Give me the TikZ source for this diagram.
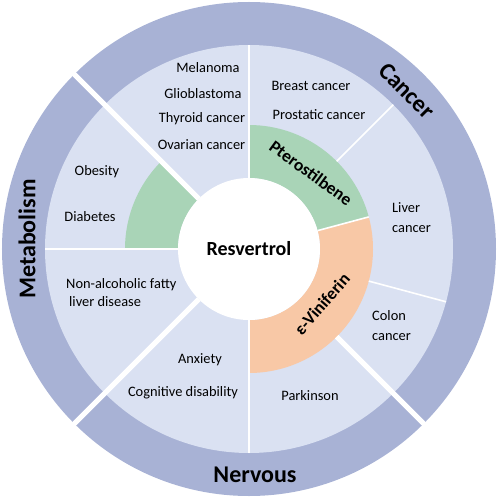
\documentclass[tikz,border=0pt]{standalone}
\usepackage{fontspec}
\setmainfont{Carlito}
\definecolor{outerc}{HTML}{A8B2D5}
\definecolor{lightc}{HTML}{DAE1F2}
\definecolor{greenc}{HTML}{A9D4B7}
\definecolor{orangec}{HTML}{F8C8A6}
\tikzset{
  gapline/.style={white, line width=5pt},
  thinline/.style={white, line width=1.6pt},
  item/.style={font=\fontsize{14.4}{18}\selectfont, inner sep=0pt, text=black},
  itemtwo/.style={font=\fontsize{14.4}{20}\selectfont, inner sep=0pt, align=left, text=black},
  biglabel/.style={font=\fontsize{24}{28}\selectfont\bfseries, inner sep=0pt},
  midlabel/.style={font=\fontsize{17.5}{20}\selectfont\bfseries, inner sep=0pt},
}
\begin{document}
\begin{tikzpicture}[x=1pt,y=1pt]
\useasboundingbox (-249,-249) rectangle (249,249);
\def\ra{71pt}\def\rb{124pt}\def\rc{204pt}\def\rd{247pt}
% rings
\fill[outerc] (0,0) circle (\rd);
\fill[lightc] (0,0) circle (\rc);
\fill[greenc] (15:\ra) arc (15:90:\ra) -- (90:\rb) arc (90:15:\rb) -- cycle;
\fill[greenc] (135:\ra) arc (135:180:\ra) -- (180:\rb) arc (180:135:\rb) -- cycle;
\fill[orangec] (-90:\ra) arc (-90:15:\ra) -- (15:\rb) arc (15:-90:\rb) -- cycle;
\fill[white] (0,0) circle (\ra);
% separators
\draw[gapline] (135:\ra) -- (135:252pt);
\draw[gapline] (225:\ra) -- (225:252pt);
\draw[gapline] (315:\rb) -- (315:252pt);
\draw[thinline] (90:\ra) -- (90:\rc);
\draw[thinline] (180:\ra) -- (180:\rc);
\draw[thinline] (270:\ra) -- (270:\rc);
\draw[thinline] (45:\rb) -- (45:\rc);
\draw[thinline] (-15:\rb) -- (-15:\rc);
\draw[thinline] (15:\ra) -- (15:\rb);
% centre
\node[font=\fontsize{20}{24}\selectfont\bfseries, inner sep=0pt] (res) at (0,0) {Resvertrol};
% outer labels
\node[biglabel, rotate=-45] (cancer) at (158,158) {Cancer};
\node[biglabel, rotate=90] (metab) at (-222,10) {Metabolism};
\node[biglabel] (nerv) at (6,-226) {Nervous};
% inner ring labels
\node[midlabel, rotate=-36] (ptero) at (62,76) {Pterostilbene};
\node[midlabel, rotate=49] (vini) at (73,-55) {ε-Viniferin};
% cancer items
\node[item] (mel) at (-41,181) {Melanoma};
\node[item] (gli) at (-46,155) {Glioblastoma};
\node[item] (thy) at (-47,130) {Thyroid cancer};
\node[item] (ova) at (-47.5,104) {Ovarian cancer};
\node[item] (bre) at (62,163) {Breast cancer};
\node[item] (pro) at (70,134) {Prostatic cancer};
\node[itemtwo, anchor=west] (liv) at (143,31) {Liver\\cancer};
\node[itemtwo, anchor=west] (col) at (123,-77) {Colon\\cancer};
% metabolism items
\node[item] (obe) at (-152,77) {Obesity};
\node[item] (dia) at (-159,32) {Diabetes};
\node[itemtwo, anchor=west, font=\fontsize{14.4}{18}\selectfont] (naf) at (-183,-44) {Non-alcoholic fatty\\\hspace*{3pt}liver disease};
% nervous items
\node[item] (par) at (61,-147) {Parkinson};
\node[item] (anx) at (-49,-111) {Anxiety};
\node[item] (cog) at (-66,-144) {Cognitive disability};
\end{tikzpicture}
\end{document}
